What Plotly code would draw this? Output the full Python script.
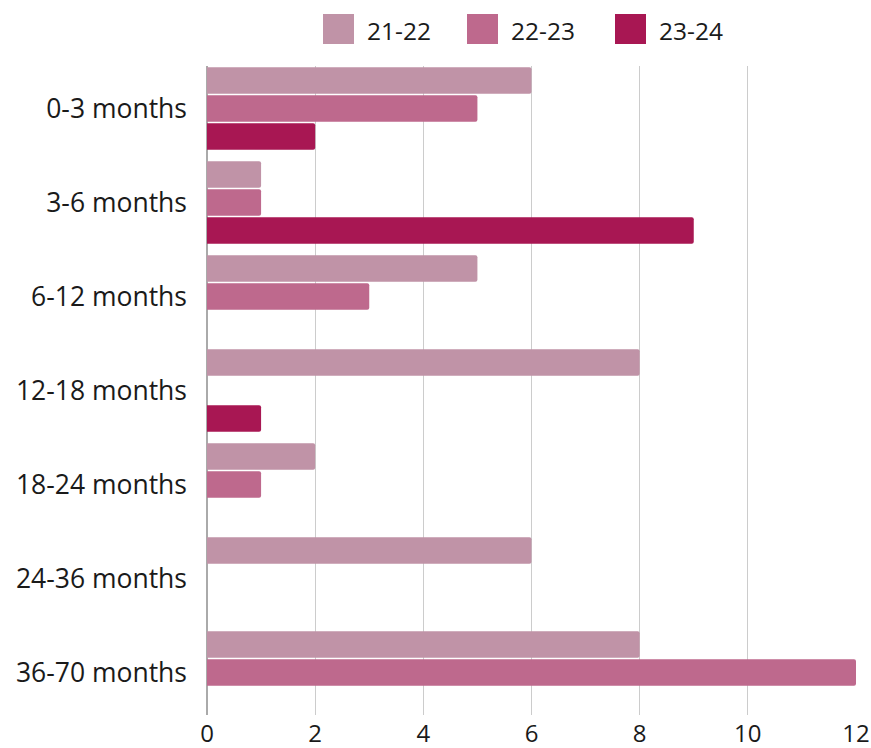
import plotly.graph_objects as go

# Age-band categories (top to bottom) and counts per academic year
categories = ["0-3 months", "3-6 months", "6-12 months", "12-18 months",
              "18-24 months", "24-36 months", "36-70 months"]
series_names = ["21-22", "22-23", "23-24"]
values_21_22 = [6, 1, 5, 8, 2, 6, 8]
values_22_23 = [5, 1, 3, 0, 1, 0, 12]
values_23_24 = [2, 9, 0, 1, 0, 0, 0]
x_ticks = [0, 2, 4, 6, 8, 10, 12]

colors = ["#c093a7", "#be698d", "#a81753"]
all_values = [values_21_22, values_22_23, values_23_24]

FONT = "Open Sans"
W, H = 871, 748
L, R, T, B = 207, 15, 66, 33

fig = go.Figure()
for name, vals, col in zip(series_names, all_values, colors):
    fig.add_trace(go.Bar(
        y=categories, x=vals, name=name, orientation="h",
        marker=dict(color=col, line=dict(width=0)),
        showlegend=False,
    ))

# Legend drawn as coloured squares with labels above the plot
plot_w = W - L - R
plot_h = H - T - B
def px_x(p):
    return (p - L) / plot_w
def px_y(p):
    return (H - B - p) / plot_h

legend_x = [323, 467, 615]
shapes = []
annotations = []
for name, col, lx in zip(series_names, colors, legend_x):
    shapes.append(dict(type="rect", xref="paper", yref="paper",
                       x0=px_x(lx), x1=px_x(lx + 31),
                       y0=px_y(44), y1=px_y(14),
                       fillcolor=col, line=dict(width=0)))
    annotations.append(dict(xref="paper", yref="paper",
                            x=px_x(lx + 42), y=px_y(30),
                            xanchor="left", yanchor="middle",
                            text=name, showarrow=False,
                            font=dict(family=FONT, size=24.5, color="#1a1a1a")))

fig.update_layout(
    width=W, height=H,
    margin=dict(l=L, r=R, t=T, b=B),
    paper_bgcolor="white", plot_bgcolor="white",
    barmode="group", bargap=0.106, bargroupgap=0.06,
    barcornerradius=2,
    font=dict(family=FONT, size=24, color="#1a1a1a"),
    shapes=shapes, annotations=annotations,
    showlegend=False,
)
fig.update_xaxes(
    range=[0, 12], tickvals=x_ticks, ticktext=[str(v) for v in x_ticks],
    showgrid=True, gridcolor="#cccccc", gridwidth=1,
    zeroline=True, zerolinecolor="#aaaaaa", zerolinewidth=1.5,
    showline=False, ticks="", ticklabelstandoff=2,
    tickfont=dict(size=24), automargin=False,
)
fig.update_yaxes(
    categoryorder="array", categoryarray=categories,
    range=[6.452, -0.452],
    showgrid=False, zeroline=False, showline=False,
    ticks="", ticklabelstandoff=19,
    tickfont=dict(size=26.5), automargin=False,
)

fig.write_html("out.html")
